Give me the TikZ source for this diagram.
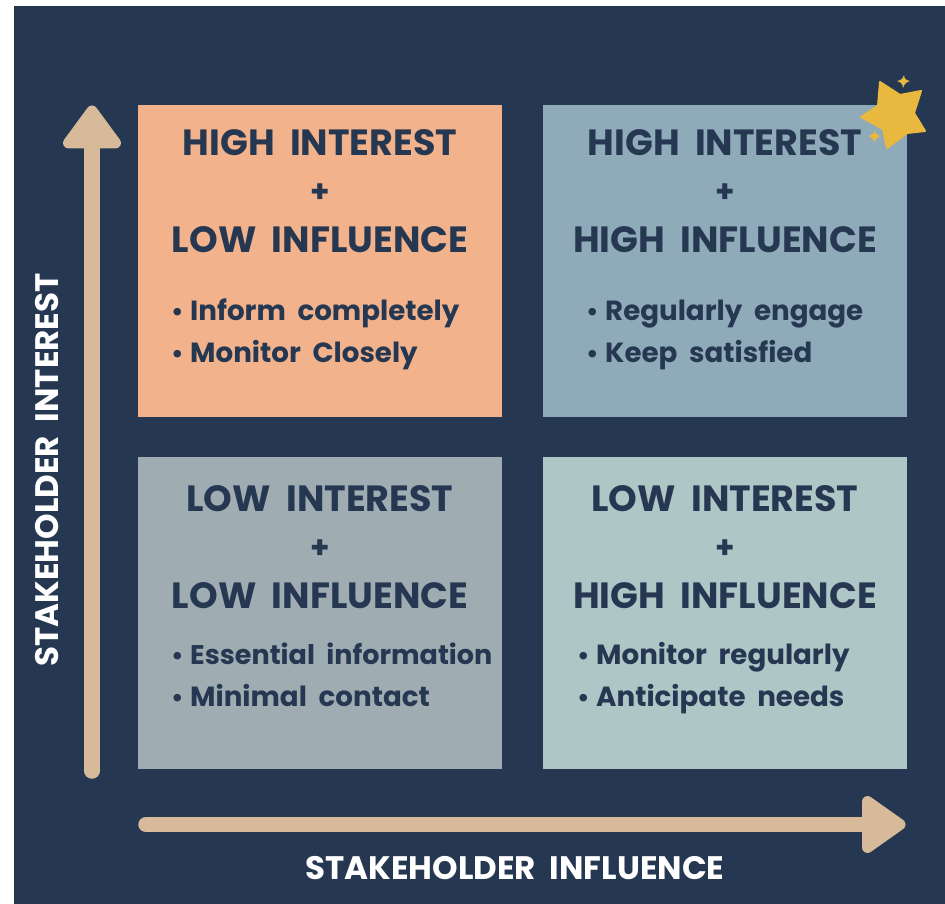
\documentclass[tikz,border=0pt]{standalone}
\usepackage{fontspec}
\setmainfont{Poppins}
\newfontfamily\headfont{Poppins}[WordSpace=1.6]
\newfontfamily\axisfont{Poppins}[WordSpace=1.3]
\newfontfamily\itemfont{Poppins}[WordSpace=2.0]
\usetikzlibrary{calc}
\definecolor{bgnavy}{HTML}{263851}
\definecolor{tan}{HTML}{D6BA9A}
\definecolor{boxorange}{HTML}{F2B28C}
\definecolor{boxblue}{HTML}{8FAAB9}
\definecolor{boxgray}{HTML}{9FADB3}
\definecolor{boxteal}{HTML}{AEC6C6}
\definecolor{stargold}{HTML}{E9B83F}
\newcommand{\bul}{\makebox[19pt][l]{\fontsize{25}{25}\selectfont\raisebox{-0.5pt}{•}}}
\tikzset{
 x=1pt,y=1pt,
 quad/.style={anchor=north west,minimum width=364pt,minimum height=312pt,inner sep=0pt,outer sep=0pt},
 head/.style={text=bgnavy,font=\headfont\fontsize{36.5}{38}\selectfont\bfseries,inner sep=0pt,anchor=base},
 plus/.style={text=bgnavy,font=\headfont\fontsize{31}{33}\selectfont\bfseries,inner sep=0pt},
 item/.style={text=bgnavy,font=\itemfont\fontsize{27.7}{30}\selectfont\bfseries,inner sep=0pt,anchor=base west},
 tightitem/.style={item,font=\itemfont\fontsize{27}{30}\selectfont\bfseries},
 axis/.style={text=white,font=\axisfont\fontsize{32.5}{34}\selectfont\bfseries,inner sep=0pt},
 arrowshape/.style={fill=tan,draw=tan,line join=round,line width=11pt},
 shaft/.style={draw=tan,line width=15.5pt,line cap=round},
}
\begin{document}
\begin{tikzpicture}
\useasboundingbox (0,0) rectangle (945,-904);
\fill[white] (0,0) rectangle (945,-904);
\fill[bgnavy] (14,-6) rectangle (945,-904);
\node[quad,fill=boxorange] (q1) at (138,-105) {};
\node[quad,fill=boxblue] (q2) at (543,-105) {};
\node[quad,fill=boxgray] (q3) at (138,-457) {};
\node[quad,fill=boxteal] (q4) at (543,-457) {};
% arrows
\coordinate (ya) at (92,-771);
\coordinate (yb) at (92,-140);
\coordinate (xa) at (146,-824.5);
\coordinate (xb) at (870,-824.5);
\draw[shaft] (ya) -- (yb);
\draw[shaft] (xa) -- (xb);
\fill[arrowshape] (92,-111) -- (115.5,-143) -- (68.5,-143) -- cycle;
\fill[arrowshape] (900,-824.5) -- (867.5,-801.5) -- (867.5,-847.5) -- cycle;
\node[axis,rotate=90] (yl) at (47,-470) {STAKEHOLDER INTEREST};
\node[axis] (xl) at (515,-868) {STAKEHOLDER INFLUENCE};
% q1
\node[head] (a1) at (320,-155.5) {HIGH INTEREST};
\node[plus] (a2) at (320,-193) {+};
\node[head] (a3) at (320,-252) {LOW INFLUENCE};
\node[item] (a4) at (171,-320) {\bul Inform completely};
\node[item] (a5) at (171,-362) {\bul Monitor Closely};
% q2
\node[head] (b1) at (725,-155.5) {HIGH INTEREST};
\node[plus] (b2) at (725,-193) {+};
\node[head] (b3) at (725,-252) {HIGH INFLUENCE};
\node[item] (b4) at (586,-320) {\bul Regularly engage};
\node[item] (b5) at (586,-362) {\bul Keep satisfied};
% q3
\node[head] (c1) at (320,-511) {LOW INTEREST};
\node[plus] (c2) at (320,-549) {+};
\node[head] (c3) at (320,-608) {LOW INFLUENCE};
\node[tightitem] (c4) at (171,-664) {\bul Essential information};
\node[item] (c5) at (171,-706) {\bul Minimal contact};
% q4
\node[head] (d1) at (725,-511) {LOW INTEREST};
\node[plus] (d2) at (725,-549) {+};
\node[head] (d3) at (725,-608) {HIGH INFLUENCE};
\node[item] (d4) at (577,-664) {\bul Monitor regularly};
\node[item] (d5) at (577,-706) {\bul Anticipate needs};
% star
\fill[stargold,draw=stargold,line width=2pt,line join=round] (880,-82) -- (900,-95) -- (921,-91) -- (914,-113) -- (925,-131) -- (907,-133) -- (887,-148) -- (883,-129) -- (861,-117) -- (878,-106) -- cycle;
\fill[stargold] (904,-75) .. controls (904.5,-79) and (905.5,-80) .. (910,-81) .. controls (905.5,-82.5) and (904.5,-84) .. (903,-88) .. controls (902.5,-84) and (901.5,-82.5) .. (897,-81) .. controls (901.5,-80) and (902.5,-79) .. (904,-75) -- cycle;
\fill[stargold] (875,-130) .. controls (875.5,-134) and (876.5,-135) .. (881,-136) .. controls (876.5,-137.5) and (875.5,-139) .. (874,-143) .. controls (873.5,-139) and (872.5,-137.5) .. (868,-136) .. controls (872.5,-135) and (873.5,-134) .. (875,-130) -- cycle;
\end{tikzpicture}
\end{document}
